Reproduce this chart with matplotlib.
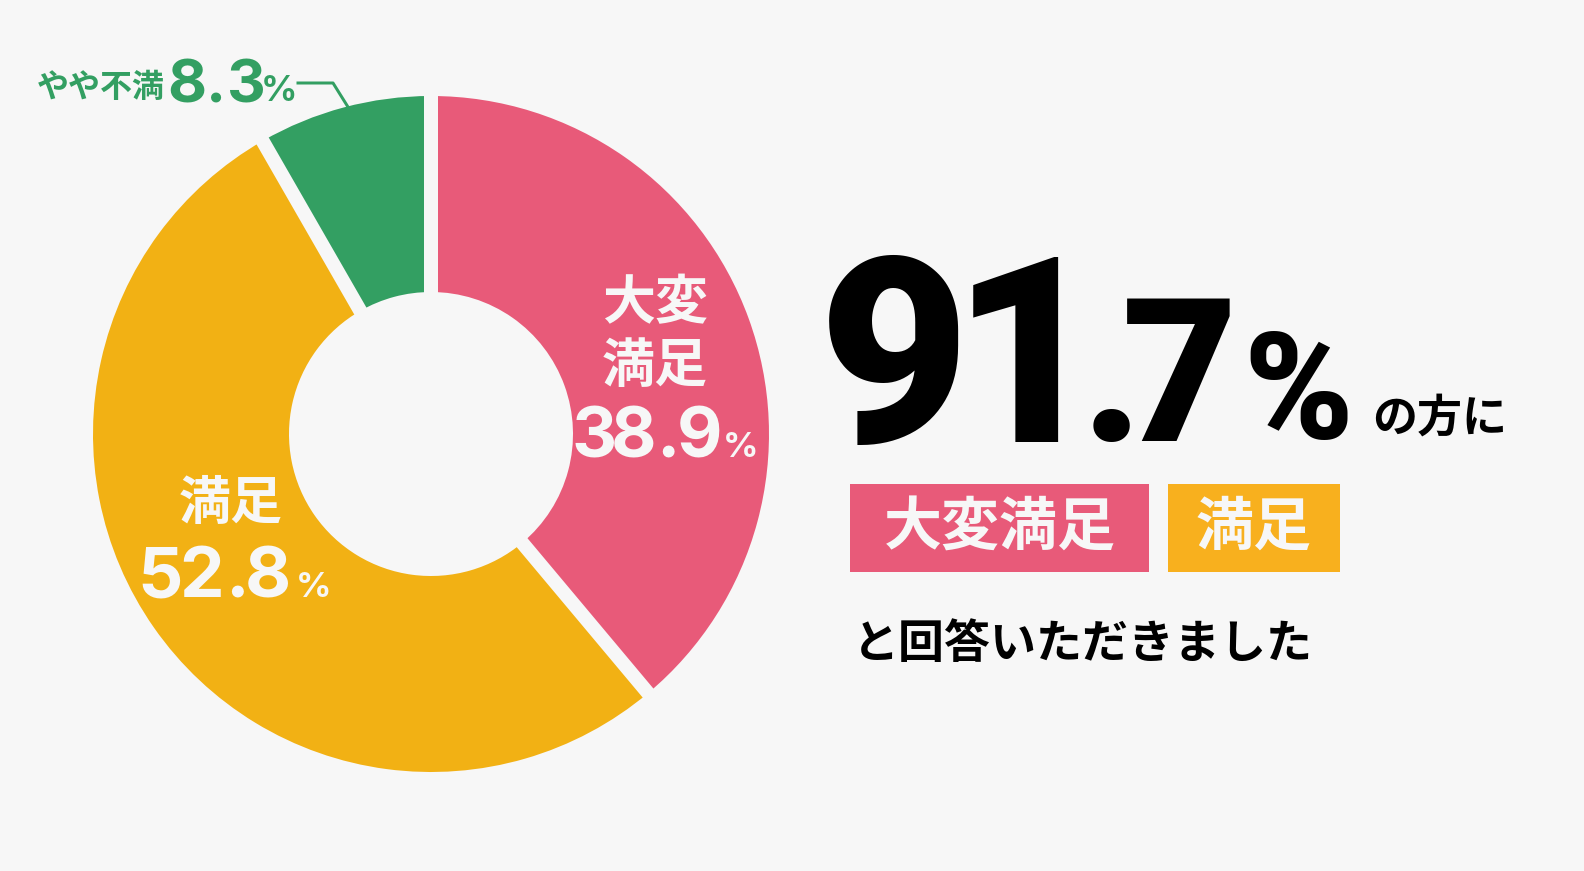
import matplotlib
matplotlib.use('Agg')
import matplotlib.pyplot as plt
from matplotlib.patches import Rectangle
from matplotlib.textpath import TextPath
from matplotlib.font_manager import FontProperties
import numpy as np

# ---- data ----
categories = ['大変満足', '満足', 'やや不満']
values = [38.9, 52.8, 8.3]
colors = ['#E85A79', '#F2B114', '#339F62']
headline_value = 91.7
headline_cats = ['大変満足', '満足']
box_colors = ['#E85A79', '#F8B01E']

BG = '#F7F7F7'
TXT = '#F7F7F7'
W, H = 1584, 871
JP = ['Noto Sans CJK JP', 'DejaVu Sans']
NUM = ['Inter', 'DejaVu Sans']
BIG = ['Roboto', 'DejaVu Sans']

fig = plt.figure(figsize=(W / 100, H / 100), dpi=100, facecolor=BG)
ax = fig.add_axes([0, 0, 1, 1])
ax.set_facecolor(BG)

cx, cy = 431, H - 434
R, r = 338, 142
ax.pie(values, colors=colors, startangle=90, counterclock=False, radius=R,
       center=(cx, cy), wedgeprops=dict(width=R - r, linewidth=0))
cum = np.cumsum([0] + values)
for c in cum[:-1]:
    ang = np.deg2rad(90 - c / 100 * 360)
    ax.plot([cx, cx + (R + 6) * np.cos(ang)], [cy, cy + (R + 6) * np.sin(ang)],
            color=BG, lw=14 * 0.72, solid_capstyle='butt')
ax.set_xlim(0, W)
ax.set_ylim(0, H)
ax.set_aspect('equal')
ax.axis('off')


def T(x, yi, s, px, color, ha='left', va='baseline', fam=JP, w='bold'):
    ax.text(x, H - yi, s, fontsize=px * 0.72, color=color, ha=ha, va=va,
            family=fam, fontweight=w)


def chars(s, centers, yi, px, color, fam=NUM, w='bold'):
    """Place each character so its ink is centred on the given x."""
    fp = FontProperties(family=fam, weight=w)
    for ch, xc in zip(s, centers):
        ext = TextPath((0, 0), ch, size=px, prop=fp).get_extents()
        x0 = xc - (ext.x0 + ext.x1) / 2
        ax.text(x0, H - yi, ch, fontsize=px * 0.72, color=color, ha='left',
                va='baseline', family=fam, fontweight=w)


# 大変満足 label
T(655, 304, '大変', 53, TXT, ha='center', va='center')
T(655, 366, '満足', 53, TXT, ha='center', va='center')
chars(f'{values[0]:.1f}', [594, 634, 668, 700], 457, 70, TXT)
chars('%', [741], 457, 35, TXT)

# 満足 label
T(231, 504, '満足', 52, TXT, ha='center', va='center')
chars(f'{values[1]:.1f}', [161, 202, 237, 268], 597, 71, TXT)
chars('%', [314], 597, 35, TXT)

# やや不満 label
green = colors[2]
T(101, 88, 'やや不満', 32, green, ha='center', va='center')
chars(f'{values[2]:.1f}', [186.5, 216, 246.5], 102, 60, green)
chars('%', [279], 101, 36, green)
ax.plot([298, 333, 348], [H - 83, H - 83, H - 107], color=green, lw=3 * 0.72)

# headline
hs = f'{headline_value:.1f}'
ip, dp = hs.split('.')
chars(ip, [894, 1015.5], 442, 260, '#000000', fam=BIG, w='black')
chars('.' + dp, [1111.5, 1178], 441, 200, '#000000', fam=BIG, w='black')
chars('%', [1298], 439, 148, '#000000', fam=BIG, w='black')
T(1440, 419, 'の方に', 45, '#000000', ha='center', va='center')

# boxes
boxes = [(850, 1149), (1168, 1340)]
for (x0, x1), cat, bc in zip(boxes, headline_cats, box_colors):
    ax.add_patch(Rectangle((x0, H - 572), x1 - x0, 88, color=bc, lw=0))
    T((x0 + x1) / 2, 528, cat, 58, TXT, ha='center', va='center')

T(1083, 644, 'と回答いただきました', 46, '#000000', ha='center', va='center')

fig.savefig('out.png', dpi=100, facecolor=BG)
